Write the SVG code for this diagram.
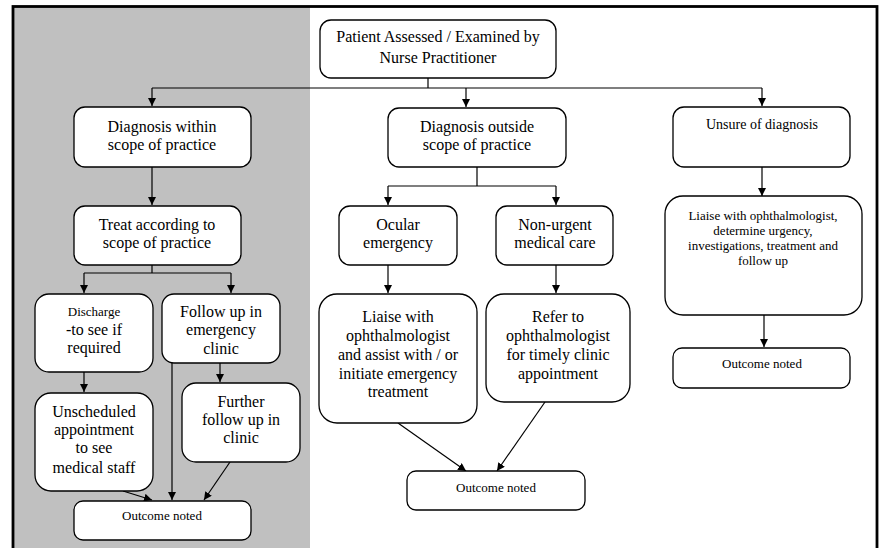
<svg xmlns="http://www.w3.org/2000/svg" width="881" height="548" viewBox="0 0 881 548">
<style>
.box{fill:#fff;stroke:#000;stroke-width:1.3}
.t{font-family:"Liberation Serif","Times New Roman",serif;font-size:16px;text-anchor:middle;fill:#000}
.s{font-size:13px}
.m{font-size:14px}
.c{fill:none;stroke:#000;stroke-width:1.2}
</style>
<defs>
<marker id="ah" viewBox="0 0 10 10" refX="10" refY="5" markerWidth="8" markerHeight="8" markerUnits="userSpaceOnUse" orient="auto">
<path d="M0,0 L10,5 L0,10 z" fill="#000"/>
</marker>
</defs>
<rect x="0" y="0" width="881" height="548" fill="#fff"/>
<rect x="13" y="7" width="297" height="545" fill="#c0c0c0"/>
<rect x="13" y="6.5" width="864" height="560" fill="none" stroke="#000" stroke-width="2.8"/>

<g id="connectors">
<path class="c" d="M428,78 V88 M152,88 H762"/>
<path class="c" d="M152,88 V106" marker-end="url(#ah)"/>
<path class="c" d="M466,88 V107" marker-end="url(#ah)"/>
<path class="c" d="M762,88 V106" marker-end="url(#ah)"/>
<path class="c" d="M152,167 V205" marker-end="url(#ah)"/>
<path class="c" d="M152,265 V273 M84,273 H231"/>
<path class="c" d="M84,273 V293" marker-end="url(#ah)"/>
<path class="c" d="M231,273 V293" marker-end="url(#ah)"/>
<path class="c" d="M84,372 V392" marker-end="url(#ah)"/>
<path class="c" d="M220,363 V382" marker-end="url(#ah)"/>
<path class="c" d="M172,363 V500" marker-end="url(#ah)"/>
<path class="c" d="M123,491 L152,500" marker-end="url(#ah)"/>
<path class="c" d="M230,462 L204,500" marker-end="url(#ah)"/>
<path class="c" d="M477,167 V186 M388,186 H556"/>
<path class="c" d="M388,186 V205" marker-end="url(#ah)"/>
<path class="c" d="M556,186 V205" marker-end="url(#ah)"/>
<path class="c" d="M388,265 V293" marker-end="url(#ah)"/>
<path class="c" d="M556,265 V293" marker-end="url(#ah)"/>
<path class="c" d="M398,423 L466,471" marker-end="url(#ah)"/>
<path class="c" d="M545,402 L497,471" marker-end="url(#ah)"/>
<path class="c" d="M762,167 V196" marker-end="url(#ah)"/>
<path class="c" d="M764,315 V347" marker-end="url(#ah)"/>
</g>

<g id="n-patient">
<rect class="box" x="320" y="20" width="236" height="58" rx="11"/>
<text class="t" x="438" y="42">Patient Assessed / Examined by</text>
<text class="t" x="438" y="63">Nurse Practitioner</text>
</g>

<g id="n-within">
<rect class="box" x="74" y="107" width="177" height="60" rx="11"/>
<text class="t" x="162" y="132">Diagnosis within</text>
<text class="t" x="162" y="150">scope of practice</text>
</g>

<g id="n-treat">
<rect class="box" x="74" y="206" width="167" height="59" rx="11"/>
<text class="t" x="157" y="230">Treat according to</text>
<text class="t" x="157" y="248">scope of practice</text>
</g>

<g id="n-discharge">
<rect class="box" x="35" y="294" width="118" height="78" rx="14"/>
<text class="t s" x="94" y="316">Discharge</text>
<text class="t" x="94" y="335">-to see if</text>
<text class="t" x="94" y="353">required</text>
</g>

<g id="n-followup">
<rect class="box" x="162" y="294" width="118" height="69" rx="12"/>
<text class="t" x="221" y="317">Follow up in</text>
<text class="t" x="221" y="335">emergency</text>
<text class="t" x="221" y="354">clinic</text>
</g>

<g id="n-unscheduled">
<rect class="box" x="35" y="393" width="118" height="98" rx="16"/>
<text class="t" x="94" y="417">Unscheduled</text>
<text class="t" x="94" y="435">appointment</text>
<text class="t" x="94" y="453">to see</text>
<text class="t" x="94" y="473">medical staff</text>
</g>

<g id="n-further">
<rect class="box" x="182" y="383" width="118" height="79" rx="14"/>
<text class="t" x="241" y="407">Further</text>
<text class="t" x="241" y="425">follow up in</text>
<text class="t" x="241" y="443">clinic</text>
</g>

<g id="n-outcome-left">
<rect class="box" x="74" y="501" width="177" height="39" rx="9"/>
<text class="t s" x="162" y="520">Outcome noted</text>
</g>

<g id="n-outside">
<rect class="box" x="388" y="108" width="178" height="59" rx="11"/>
<text class="t" x="477" y="132">Diagnosis outside</text>
<text class="t" x="477" y="150">scope of practice</text>
</g>

<g id="n-ocular">
<rect class="box" x="339" y="206" width="118" height="59" rx="11"/>
<text class="t" x="398" y="230">Ocular</text>
<text class="t" x="398" y="248">emergency</text>
</g>

<g id="n-nonurgent">
<rect class="box" x="496" y="206" width="117" height="59" rx="11"/>
<text class="t" x="555" y="230">Non-urgent</text>
<text class="t" x="555" y="248">medical care</text>
</g>

<g id="n-liaise-emergency">
<rect class="box" x="319" y="294" width="158" height="129" rx="18"/>
<text class="t" x="398" y="322">Liaise with</text>
<text class="t" x="398" y="341">ophthalmologist</text>
<text class="t" x="398" y="360">and assist with / or</text>
<text class="t" x="398" y="379">initiate emergency</text>
<text class="t" x="398" y="397">treatment</text>
</g>

<g id="n-refer">
<rect class="box" x="486" y="294" width="144" height="108" rx="18"/>
<text class="t" x="558" y="322">Refer to</text>
<text class="t" x="558" y="341">ophthalmologist</text>
<text class="t" x="558" y="360">for timely clinic</text>
<text class="t" x="558" y="379">appointment</text>
</g>

<g id="n-outcome-mid">
<rect class="box" x="407" y="471" width="178" height="39" rx="9"/>
<text class="t s" x="496" y="492">Outcome noted</text>
</g>

<g id="n-unsure">
<rect class="box" x="673" y="107" width="177" height="60" rx="11"/>
<text class="t m" x="762" y="129">Unsure of diagnosis</text>
</g>

<g id="n-liaise-right">
<rect class="box" x="665" y="196" width="197" height="119" rx="18"/>
<text class="t s" x="763" y="220">Liaise with ophthalmologist,</text>
<text class="t s" x="763" y="235">determine urgency,</text>
<text class="t s" x="763" y="250">investigations, treatment and</text>
<text class="t s" x="763" y="265">follow up</text>
</g>

<g id="n-outcome-right">
<rect class="box" x="673" y="348" width="177" height="40" rx="9"/>
<text class="t s" x="762" y="368">Outcome noted</text>
</g>
</svg>
